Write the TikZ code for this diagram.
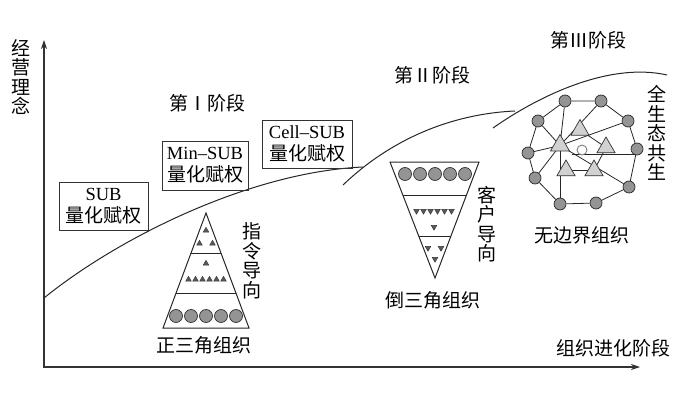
\documentclass[tikz,border=0pt]{standalone}
\usepackage{fontspec}
\setmainfont{Liberation Serif}
\newfontfamily\cjk{Noto Sans CJK SC}
\usetikzlibrary{arrows.meta,shapes.geometric,calc,backgrounds}
\newcommand{\zh}[1]{{\cjk\fontsize{19}{22}\selectfont #1}}
\begin{document}
\begin{tikzpicture}[x=1pt,y=-1pt,
  txt/.style={inner sep=0pt, font=\cjk\fontsize{19}{19.5}\selectfont},
  vtxt/.style={txt, align=center},
  sbox/.style={draw=black!80, line width=0.8pt, inner sep=0pt, align=center,
    font=\fontsize{18.5}{22}\selectfont},
  crv/.style={line width=1pt, black!85},
  axis/.style={line width=1.1pt, black!80},
  pyr/.style={line width=1pt, black!85},
  bigc/.style={circle, draw=black!80, fill=black!42, line width=0.7pt, minimum size=13pt, inner sep=0pt},
  smt/.style={regular polygon, regular polygon sides=3, draw=black!80, fill=black!65,
    minimum size=6.5pt, inner sep=0pt, line width=0.4pt},
  smtd/.style={smt, shape border rotate=180},
  nc/.style={circle, draw=black!85, fill=black!42, line width=0.7pt, minimum size=12pt, inner sep=0pt},
  nt/.style={regular polygon, regular polygon sides=3, draw=black!80, fill=black!18,
    line width=0.7pt, minimum size=21pt, inner sep=0pt},
  wc/.style={circle, draw=black!50, fill=white, line width=0.9pt, minimum size=10pt, inner sep=0pt},
  edge/.style={line width=0.8pt, black!85}
]
\useasboundingbox (0,0) rectangle (700,406);

% axes
\coordinate (O) at (44,367);
\coordinate (ytip) at (44,40);
\coordinate (xtip) at (640,367);
\draw[axis, {Stealth[length=9pt,width=6pt]}-{Stealth[length=9pt,width=6pt]}] (ytip) -- (O) -- (xtip);
\node[vtxt] (ylab) at (21,77) {经\\营\\理\\念};
\node[txt] (xlab) at (613,348) {组织进化阶段};

% curves
\draw[crv] (44,298) .. controls (118,238) and (250,172) .. (363,167);
\draw[crv] (343,185) .. controls (390,140) and (450,114) .. (515,111);
\draw[crv] (493,128) .. controls (540,95) and (610,62) .. (667,75);

% stage labels
\node[txt] (s1) at (207,103) {第Ⅰ阶段};
\node[txt] (s2) at (432,75) {第Ⅱ阶段};
\node[txt] (s3) at (588,40) {第Ⅲ阶段};

% boxes
\node[sbox, minimum width=89pt, minimum height=48pt] (b1) at (103.5,206) {SUB\\\zh{量化赋权}};
\node[sbox, minimum width=86pt, minimum height=49pt] (b2) at (205,165.5) {Min–SUB\\\zh{量化赋权}};
\node[sbox, minimum width=90pt, minimum height=48pt] (b3) at (307,144) {Cell–SUB\\\zh{量化赋权}};

% upright pyramid
\coordinate (pa) at (206,213);
\coordinate (pl) at (163,328);
\coordinate (pr) at (249,328);
\draw[pyr, line join=miter] (pa) -- (pl) -- (pr) -- cycle;
\draw[pyr] ($(pa)!0.348!(pl)$) -- ($(pa)!0.348!(pr)$);
\draw[pyr] ($(pa)!0.704!(pl)$) -- ($(pa)!0.704!(pr)$);
\foreach \x [count=\i] in {176,191,206,221,236} \node[bigc] (pc\i) at (\x,316) {};
\foreach \x [count=\i] in {188.5,195.5,202.5,209.5,216.5,223.5} \node[smt] (pm\i) at (\x,279.5) {};
\node[smt] (pm0) at (206,263.5) {};
\node[smt] (pt0) at (206,230.5) {};
\node[smt] (pt1) at (199.5,243.5) {};
\node[smt] (pt2) at (212.5,243.5) {};
\node[vtxt] (lab1) at (252,261) {指\\令\\导\\向};
\node[txt] (name1) at (204,345) {正三角组织};

% inverted pyramid
\coordinate (qa) at (435,278);
\coordinate (ql) at (390,162);
\coordinate (qr) at (479,162);
\draw[pyr, line join=miter] (qa) -- (ql) -- (qr) -- cycle;
\draw[pyr] ($(ql)!0.293!(qa)$) -- ($(qr)!0.293!(qa)$);
\draw[pyr] ($(ql)!0.638!(qa)$) -- ($(qr)!0.638!(qa)$);
\foreach \x [count=\i] in {405,420,435,450,465} \node[bigc] (qc\i) at (\x,174) {};
\foreach \x [count=\i] in {416.5,423.5,430.5,437.5,444.5,451.5} \node[smtd] (qm\i) at (\x,211) {};
\node[smtd] (qm0) at (434,227) {};
\node[smtd] (qb1) at (428,248) {};
\node[smtd] (qb2) at (441,248) {};
\node[smtd] (qb0) at (435,259) {};
\node[vtxt] (lab2) at (487,224) {客\\户\\导\\向};
\node[txt] (name2) at (433,300) {倒三角组织};

% network
\node[nc] (c1) at (565,101) {};
\node[nc] (c2) at (601,101) {};
\node[nc] (c3) at (538,121) {};
\node[nc] (c4) at (628,121) {};
\node[nc] (c5) at (528,153) {};
\node[nc] (c6) at (637,149) {};
\node[nc] (c7) at (535,178) {};
\node[nc] (c8) at (629,187) {};
\node[nc] (c9) at (560,204) {};
\node[nc] (c10) at (596,203) {};
\node[wc] (w) at (582,150) {};
\node[nt, minimum size=22pt] (t0) at (560,145.5) {};
\node[nt] (t1) at (580,130) {};
\node[nt] (t2) at (606,147.5) {};
\node[nt] (t3) at (566,170.5) {};
\node[nt] (t4) at (594,170.5) {};
\coordinate (h0) at (572,154.5);
\begin{scope}[on background layer]
  \draw[edge] (c1) -- (c2) -- (c4) -- (c6) -- (c8) -- (c10) -- (c9) -- (c7) -- (c5) -- (c3) -- (c1);
  \draw[edge] (t0.center) -- (c1);
  \draw[edge] (t0.center) -- (c2);
  \draw[edge] (t0.center) -- (c3);
  \draw[edge] (t0.center) -- (c4);
  \draw[edge] (t0.center) -- (c5);
  \draw[edge] (t0.center) -- (c7);
  \draw[edge] (t0.center) -- (c8);
  \draw[edge] (t0.center) -- (t0.center |- c9);
  \draw[edge] (t1.center) -- (t2.center);
  \draw[edge] (t2.center) -- (t4.center);
  \draw[edge] (t3.center) -- (t4.center);
  \draw[edge] (h0) -- (h0 -| c6);
\end{scope}
\node[vtxt] (lab3) at (657,133) {全\\生\\态\\共\\生};
\node[txt] (name3) at (582,235) {无边界组织};
\end{tikzpicture}
\end{document}
